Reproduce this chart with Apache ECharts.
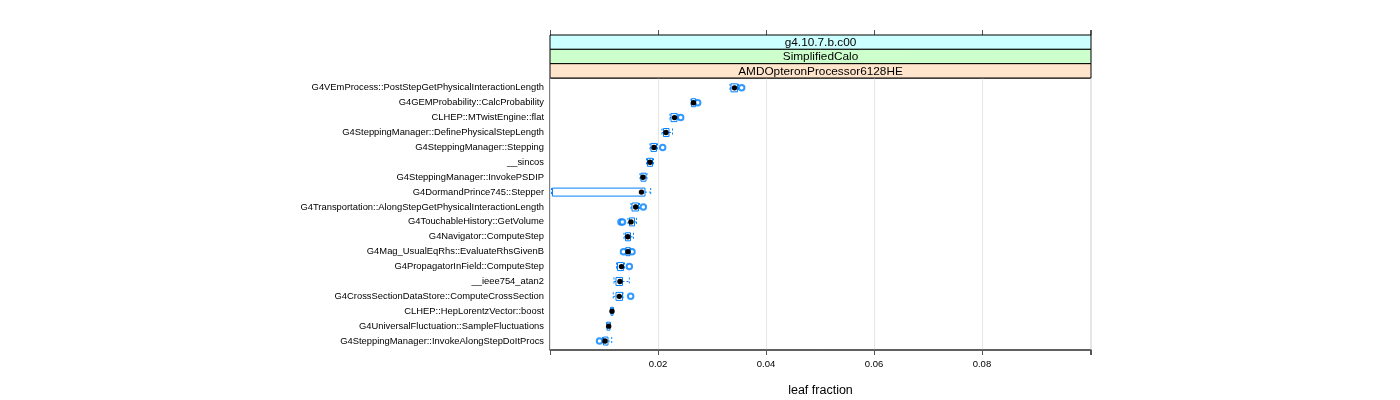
<!DOCTYPE html>
<html>
<head>
<meta charset="utf-8">
<script src="https://cdn.jsdelivr.net/npm/echarts@6/dist/echarts.min.js"></script>
<style>html,body{margin:0;padding:0;background:#fff;}#c{width:1400px;height:400px;}</style>
</head>
<body>
<div id="c"></div>
<script>
const categories = [
  "G4VEmProcess::PostStepGetPhysicalInteractionLength",
  "G4GEMProbability::CalcProbability",
  "CLHEP::MTwistEngine::flat",
  "G4SteppingManager::DefinePhysicalStepLength",
  "G4SteppingManager::Stepping",
  "__sincos",
  "G4SteppingManager::InvokePSDIP",
  "G4DormandPrince745::Stepper",
  "G4Transportation::AlongStepGetPhysicalInteractionLength",
  "G4TouchableHistory::GetVolume",
  "G4Navigator::ComputeStep",
  "G4Mag_UsualEqRhs::EvaluateRhsGivenB",
  "G4PropagatorInField::ComputeStep",
  "__ieee754_atan2",
  "G4CrossSectionDataStore::ComputeCrossSection",
  "CLHEP::HepLorentzVector::boost",
  "G4UniversalFluctuation::SampleFluctuations",
  "G4SteppingManager::InvokeAlongStepDoItProcs"
];
// lower whisker, Q1, median, Q3, upper whisker
const whiskerLow = [0.03333,0.02611,0.02222,0.02074,0.01852,0.01787,0.01667,0.00028,0.01500,0.01444,0.01370,0.01398,0.01231,0.01185,0.01172,0.01120,0.01046,0.00972];
const q1         = [0.03352,0.02620,0.02241,0.02102,0.01870,0.01806,0.01685,0.00046,0.01519,0.01472,0.01398,0.01407,0.01250,0.01222,0.01222,0.01130,0.01056,0.00991];
const medians    = [0.03417,0.02657,0.02306,0.02148,0.01926,0.01852,0.01722,0.01694,0.01587,0.01500,0.01441,0.01444,0.01324,0.01296,0.01283,0.01148,0.01087,0.01019];
const q3         = [0.03472,0.02694,0.02352,0.02204,0.01972,0.01898,0.01778,0.01759,0.01639,0.01565,0.01491,0.01481,0.01361,0.01343,0.01343,0.01167,0.01111,0.01074];
const whiskerHigh= [0.03491,0.02704,0.02370,0.02269,0.01991,0.01917,0.01796,0.01865,0.01657,0.01602,0.01546,0.01491,0.01380,0.01469,0.01352,0.01176,0.01120,0.01143];
// outliers: [row index, value]
const outliers = [
  [0,0.03550],[1,0.02735],[2,0.02420],[4,0.02087],[8,0.01728],
  [9,0.01315],[9,0.01343],[11,0.01361],[11,0.01519],[12,0.01469],
  [14,0.01494],[17,0.00917]
];
const xTicks = [0.02,0.04,0.06,0.08];
const strips = ["g4.10.7.b.c00","SimplifiedCalo","AMDOpteronProcessor6128HE"];
const stripColors = ["#ccffff","#ccffcc","#ffe5cc"];
const xTitle = "leaf fraction";

const chart = echarts.init(document.getElementById('c'), null, {renderer:'canvas'});
const FONT = "'Liberation Sans', Arial, sans-serif";
const L = 550, R = 1091, T = 78, B = 350;

const boxData = categories.map((c,i)=>[i, whiskerLow[i], q1[i], medians[i], q3[i], whiskerHigh[i]]);

const stripGraphics = [];
const SH = (T-35)/3;
strips.forEach((s,k)=>{
  const y0 = 35 + k*SH;
  stripGraphics.push({type:'rect', shape:{x:L, y:y0, width:R-L, height:SH}, style:{fill:stripColors[k], stroke:'#000', lineWidth:1}, z:10});
  stripGraphics.push({type:'text', x:(L+R)/2, y:y0+SH/2+0.5, style:{text:s, font:"11.8px "+FONT, fill:'#000', textAlign:'center', textVerticalAlign:'middle'}, z:11});
});

const option = {
  animation:false,
  backgroundColor:'#fff',
  grid:{left:L, right:1400-R, top:T, bottom:400-B, show:true, borderColor:'#000', borderWidth:1, containLabel:false, outerBoundsMode:'none'},
  xAxis:[{
    type:'value', min:0, max:0.1002, interval:0.02,
    position:'bottom',
    name:xTitle, nameLocation:'middle', nameGap:34,
    nameTextStyle:{fontSize:12.5, color:'#000', fontFamily:FONT},
    axisLine:{show:true, onZero:false, lineStyle:{color:'#555', width:1.5}},
    axisTick:{show:true, length:5, lineStyle:{color:'#555'}},
    axisLabel:{color:'#000', fontSize:9.5, fontFamily:FONT, margin:9,
      customValues: xTicks,
      formatter:(v)=> (xTicks.some(t=>Math.abs(t-v)<1e-9) ? String(+v.toFixed(2)) : '')},
    splitLine:{show:true, lineStyle:{color:'#e6e6e6', width:1}}
  },{
    type:'value', min:0, max:0.1002, interval:0.02,
    position:'top', offset:T-35,
    axisLine:{show:false, onZero:false},
    axisTick:{show:true, length:5, lineStyle:{color:'#555'}},
    axisLabel:{show:false},
    splitLine:{show:false}
  }],
  yAxis:{
    type:'value', inverse:true, min:-0.66, max:17.6,
    axisLine:{show:false, onZero:false},
    axisTick:{show:false},
    axisLabel:{color:'#000', fontSize:9.4, fontFamily:FONT, margin:6,
      customValues: categories.map((c,i)=>i),
      formatter:(v)=> categories[Math.round(v)] || ''},
    splitLine:{show:false}
  },
  series:[{
    type:'custom',
    xAxisIndex:0,
    renderItem:(params, api)=>{
      const y = api.value(0);
      const lo = api.coord([api.value(1), y]);
      const b1 = api.coord([api.value(2), y]);
      const md = api.coord([api.value(3), y]);
      const b3 = api.coord([api.value(4), y]);
      const hi = api.coord([api.value(5), y]);
      const h = 8;
      const cy = md[1];
      const blue = '#0080ff';
      const dashed = {stroke:blue, lineWidth:1, lineDash:[2,2]};
      return {type:'group', children:[
        {type:'line', shape:{x1:lo[0], y1:cy, x2:b1[0], y2:cy}, style:dashed},
        {type:'line', shape:{x1:b3[0], y1:cy, x2:hi[0], y2:cy}, style:dashed},
        {type:'line', shape:{x1:lo[0], y1:cy-h/2, x2:lo[0], y2:cy+h/2}, style:dashed},
        {type:'line', shape:{x1:hi[0], y1:cy-h/2, x2:hi[0], y2:cy+h/2}, style:dashed},
        {type:'rect', shape:{x:b1[0], y:cy-h/2, width:b3[0]-b1[0], height:h}, style:{fill:null, stroke:blue, lineWidth:1}},
        {type:'circle', shape:{cx:md[0], cy:cy, r:2.7}, style:{fill:'#000'}}
      ]};
    },
    encode:{x:[1,2,3,4,5], y:0},
    data:boxData,
    z:3
  },{
    type:'scatter',
    xAxisIndex:0,
    symbol:'emptyCircle', symbolSize:5.5,
    itemStyle:{color:'#0080ff', borderColor:'#0080ff', borderWidth:1},
    data: outliers.map(o=>[o[1], o[0]]),
    z:2
  }],
  graphic: stripGraphics
};
chart.setOption(option);
</script>
</body>
</html>
